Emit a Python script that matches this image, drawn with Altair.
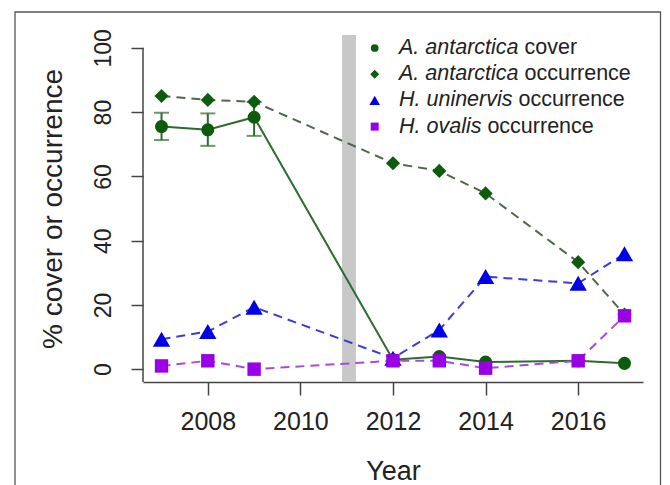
import altair as alt
import pandas as pd

# ---- data ----
years = [2007, 2008, 2009, 2012, 2013, 2014, 2016, 2017]
aa_cover = [75.5, 74.5, 78.4, 2.9, 3.9, 2.2, 2.6, 1.8]
err_years = [2007, 2008, 2009]
aa_cover_lo = [71.3, 69.5, 72.6]
aa_cover_hi = [79.8, 79.6, 83.2]
aa_occ = [85.0, 83.8, 83.2, 64.1, 61.7, 54.7, 33.3, 17.0]
hu_occ = [9.3, 11.7, 19.3, 3.4, 12.2, 28.8, 26.7, 35.9]
ho_occ = [1.0, 2.6, 0.0, 2.6, 2.6, 0.3, 2.6, 16.6]

x_ticks = [2008, 2010, 2012, 2014, 2016]
y_ticks = [0, 20, 40, 60, 80, 100]
x_domain = [2006.6, 2017.4]
y_domain = [-4, 104]
event_band = [2010.9, 2011.2]

legend_italic = ["A. antarctica", "A. antarctica", "H. uninervis", "H. ovalis"]
legend_plain = ["cover", "occurrence", "occurrence", "occurrence"]
legend_shape = ["circle", "diamond", "triangle-up", "square"]
legend_color = ["#0d5c0d", "#0d5c0d", "#0000e6", "#9900e6"]
legend_size = [60, 80, 110, 64]

# ---- styling ----
W, H = 500, 347
FONT = "Liberation Sans"
TXT = "#222222"
AX = "#444444"
LEG_FS = 21.5

# Arial / Liberation Sans advance widths (per 1000 em) for legend layout
adv = {"A": 667, "H": 722, ".": 278, " ": 278, "a": 556, "n": 556, "t": 278,
       "r": 333, "c": 500, "i": 222, "u": 556, "e": 556, "v": 500, "s": 500,
       "o": 556, "l": 222}


def text_width(s, fs):
    return sum(adv.get(ch, 556) for ch in s) / 1000.0 * fs


df_cover = pd.DataFrame({"year": years, "value": aa_cover})
df_err = pd.DataFrame({"year": err_years, "lo": aa_cover_lo, "hi": aa_cover_hi})
df_occ = pd.DataFrame({"year": years, "value": aa_occ})
df_hu = pd.DataFrame({"year": years, "value": hu_occ})
df_ho = pd.DataFrame({"year": years, "value": ho_occ})
df_band = pd.DataFrame({"year": [event_band[0]], "year2": [event_band[1]]})

xs = alt.Scale(domain=x_domain, nice=False, zero=False)
ys = alt.Scale(domain=y_domain, nice=False, zero=False)

x_axis = alt.Axis(
    values=x_ticks, format="d", title="Year", grid=False,
    domain=True, domainColor=AX, domainWidth=1.5,
    ticks=True, tickSize=13, tickColor=AX, tickWidth=1.5,
    labelFont=FONT, labelFontSize=25, labelColor=TXT, labelPadding=14,
    titleFont=FONT, titleFontSize=27, titleFontWeight="normal", titleColor=TXT,
    titleBaseline="middle", titleY=89, titleX=W / 2)
y_axis = alt.Axis(
    values=y_ticks, title="% cover or occurrence", grid=False,
    domain=False, ticks=True, tickSize=12, tickColor=AX, tickWidth=1.5,
    labelAngle=270, labelAlign="center", labelBaseline="bottom",
    labelFont=FONT, labelFontSize=23, labelColor=TXT, labelPadding=16,
    titleFont=FONT, titleFontSize=28, titleFontWeight="normal", titleColor=TXT,
    titleAngle=270, titleBaseline="middle", titleX=-90, titleY=H / 2)


def X(field):
    return alt.X(field, scale=xs, axis=x_axis, title="Year")


def Y(field):
    return alt.Y(field, scale=ys, axis=y_axis, title="% cover or occurrence")


band = alt.Chart(df_band).mark_rect(color="#c8c8c8").encode(
    x=X("year:Q"), x2="year2:Q", y=alt.value(0), y2=alt.value(H))

yline = alt.Chart(alt.Data(values=[{}])).mark_rule(color=AX, strokeWidth=1.5).encode(
    x=alt.value(0), y=alt.Y(datum=max(y_ticks), scale=ys, axis=y_axis,
                            title="% cover or occurrence"),
    y2=alt.value(H))

GREEN_LINE = "#2e6b2e"
cover_line = alt.Chart(df_cover).mark_line(color=GREEN_LINE, strokeWidth=2).encode(
    x=X("year:Q"), y=Y("value:Q"))
err_rule = alt.Chart(df_err).mark_rule(color=GREEN_LINE, strokeWidth=2).encode(
    x=X("year:Q"), y=Y("lo:Q"), y2="hi:Q")
err_lo = alt.Chart(df_err).mark_tick(color=GREEN_LINE, orient="horizontal",
                                     size=15, thickness=2).encode(
    x=X("year:Q"), y=Y("lo:Q"))
err_hi = alt.Chart(df_err).mark_tick(color=GREEN_LINE, orient="horizontal",
                                     size=15, thickness=2).encode(
    x=X("year:Q"), y=Y("hi:Q"))
cover_pts = alt.Chart(df_cover).mark_point(shape="circle", filled=True, size=170,
                                           color="#0d5c0d", opacity=1).encode(
    x=X("year:Q"), y=Y("value:Q"))

occ_line = alt.Chart(df_occ).mark_line(color="#4d664d", strokeWidth=2,
                                       strokeDash=[9, 6]).encode(
    x=X("year:Q"), y=Y("value:Q"))
occ_pts = alt.Chart(df_occ).mark_point(shape="diamond", filled=True, size=200,
                                       color="#0d5c0d", opacity=1).encode(
    x=X("year:Q"), y=Y("value:Q"))

hu_line = alt.Chart(df_hu).mark_line(color="#3d3dd0", strokeWidth=2,
                                     strokeDash=[9, 6]).encode(
    x=X("year:Q"), y=Y("value:Q"))
hu_pts = alt.Chart(df_hu).mark_point(shape="triangle-up", filled=True, size=300,
                                     color="#0000e6", opacity=1).encode(
    x=X("year:Q"), y=Y("value:Q"))

ho_line = alt.Chart(df_ho).mark_line(color="#a64be0", strokeWidth=2,
                                     strokeDash=[9, 6]).encode(
    x=X("year:Q"), y=Y("value:Q"))
ho_pts = alt.Chart(df_ho).mark_point(shape="square", filled=True, size=180,
                                     color="#9900e6", opacity=1).encode(
    x=X("year:Q"), y=Y("value:Q"))

# legend (drawn inside the plot, top right)
one = alt.Data(values=[{}])
legend_layers = []
for i, (it, pl, shp, col, sz) in enumerate(zip(legend_italic, legend_plain,
                                               legend_shape, legend_color,
                                               legend_size)):
    ly = 13 + 26.2 * i
    legend_layers.append(
        alt.Chart(one).mark_point(shape=shp, filled=True, color=col, size=sz,
                                  opacity=1).encode(x=alt.value(231.7), y=alt.value(ly)))
    legend_layers.append(
        alt.Chart(one).mark_text(text=it, align="left", baseline="middle", font=FONT,
                                 fontSize=LEG_FS, fontStyle="italic",
                                 color=TXT).encode(x=alt.value(256), y=alt.value(ly)))
    legend_layers.append(
        alt.Chart(one).mark_text(text=pl, align="left", baseline="middle", font=FONT,
                                 fontSize=LEG_FS, color=TXT).encode(
            x=alt.value(256 + text_width(it + " ", LEG_FS)), y=alt.value(ly)))

frame = alt.Chart(one).mark_rect(
    fill="transparent", stroke="#555555", strokeWidth=1.3).encode(
    x=alt.value(-128), x2=alt.value(517.5), y=alt.value(-23), y2=alt.value(500))

chart = alt.layer(
    band, yline,
    cover_line, err_rule, err_lo, err_hi, cover_pts,
    occ_line, occ_pts,
    hu_line, hu_pts,
    ho_line, ho_pts,
    *legend_layers, frame,
).properties(
    width=W, height=H,
    autosize=alt.AutoSizeParams(type="none"),
    padding={"left": 135, "top": 27, "right": 19, "bottom": 103},
    background="white",
).configure_view(stroke=None)

chart.save("out.html", embed_options={"renderer": "svg", "actions": False})
